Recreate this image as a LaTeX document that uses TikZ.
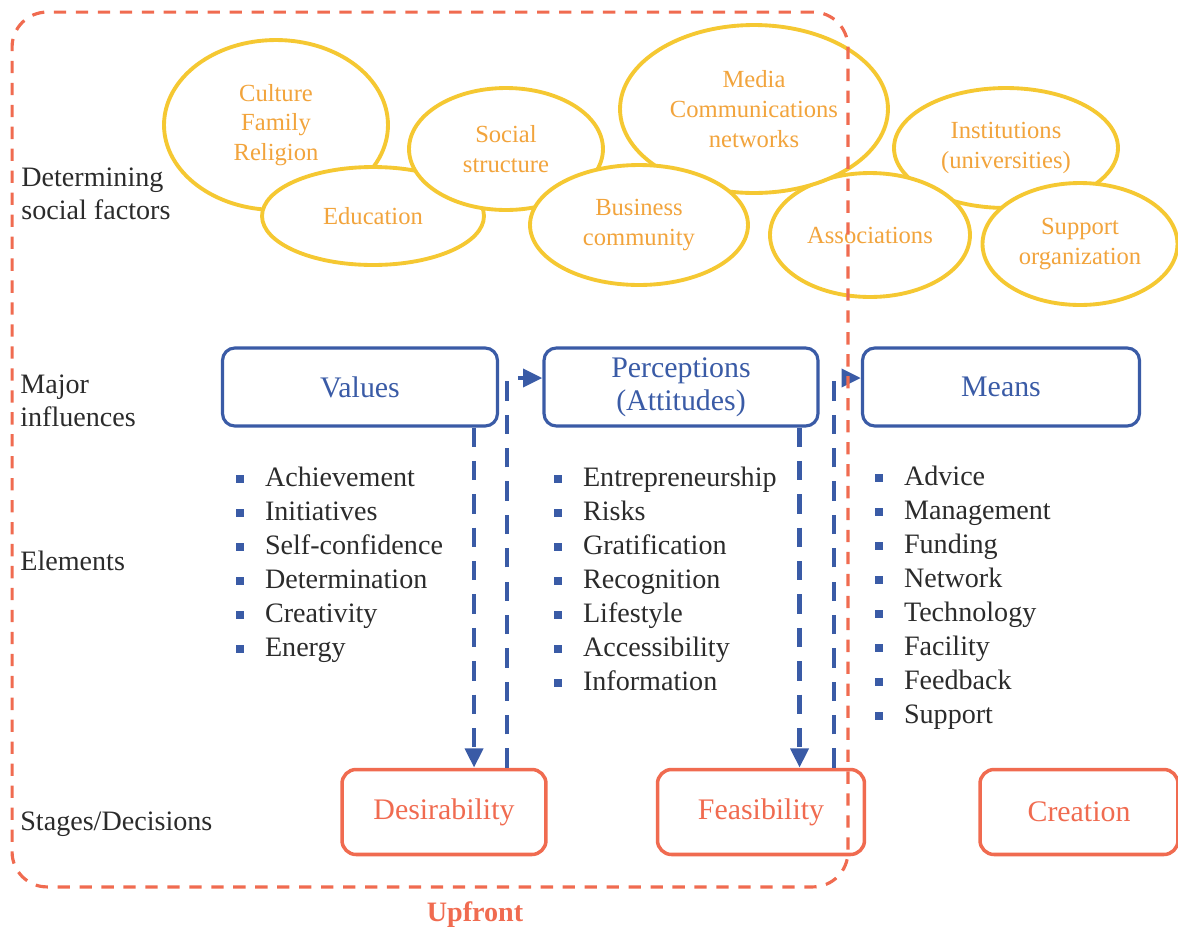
\documentclass[tikz,border=0pt]{standalone}
\usepackage{fontspec}
\setmainfont{Liberation Serif}
\usetikzlibrary{shapes.geometric, arrows, arrows.meta, positioning, calc}

\definecolor{sunline}{HTML}{F5C832}
\definecolor{suntext}{HTML}{F2A43C}
\definecolor{inkblue}{HTML}{3A5BA6}
\definecolor{coral}{HTML}{F06B50}
\definecolor{darktext}{HTML}{2B2B2B}
\newcommand{\sqbullet}{\textcolor{inkblue}{\rule[0.12em]{0.28em}{0.28em}}\hspace{0.74em}}

\begin{document}
\begin{tikzpicture}[
        x=0.02cm, y=-0.02cm,
        factor/.style={ellipse, draw=sunline, line width=2.2pt, fill=white, inner sep=0pt, text=suntext, align=center, font=\fontsize{14}{17}\selectfont},
        influence/.style={rectangle, rounded corners=7pt, draw=inkblue, line width=1.8pt, text=inkblue, minimum height=1.56cm, align=center, font=\fontsize{17}{19}\selectfont},
        stage/.style={rectangle, rounded corners=8pt, draw=coral, line width=2pt, text=coral, minimum height=1.7cm, font=\fontsize{17}{19}\selectfont},
        rowlabel/.style={anchor=west, align=left, text=darktext, inner sep=0pt, font=\fontsize{16}{18.5}\selectfont},
        item/.style={anchor=west, inner sep=0pt, text=darktext, text height=1.5ex, text depth=.25ex, font=\fontsize{16}{19}\selectfont},
        flow/.style={draw=inkblue, line width=2.6pt, dash pattern=on 11pt off 8pt, -{Triangle[length=11pt, width=10pt]}},
        frame/.style={draw=coral, line width=1.8pt, dash pattern=on 7pt off 5.5pt, rounded corners=0.7cm}
      ]
        \useasboundingbox (0,0) rectangle (1178,934);

        % Determining social factors
        \node (culture) [factor, minimum width=4.48cm, minimum height=3.4cm] at (276,125) {Culture\\Family\\Religion};
        \node (education) [factor, minimum width=4.44cm, minimum height=1.96cm] at (373,216) {Education};
        \node (social) [factor, minimum width=3.88cm, minimum height=2.44cm] at (506,149) {Social\\structure};
        \node (institutions) [factor, minimum width=4.48cm, minimum height=2.4cm] at (1006,148) {Institutions\\(universities)};
        \node (associations) [factor, minimum width=4.0cm, minimum height=2.48cm] at (870,235) {Associations};
        \node (media) [factor, minimum width=5.36cm, minimum height=3.36cm] at (754,109) {Media\\Communications\\networks};
        \node (business) [factor, minimum width=4.36cm, minimum height=2.4cm] at (639,225) {Business\\community};
        \node (support) [factor, minimum width=3.9cm, minimum height=2.44cm] at (1080,244) {Support\\organization};

        % Major influences
        \node (values) [influence, minimum width=5.5cm] at (360,387) {Values};
        \node (percep) [influence, minimum width=5.48cm] at (681,387) {Perceptions\\(Attitudes)};
        \node (means) [influence, minimum width=5.54cm] at (1001,387) {Means};

        % Stages
        \node (desir) [stage, minimum width=4.08cm] at (444,812) {Desirability};
        \node (feas) [stage, minimum width=4.14cm] at (761,812) {Feasibility};
        \node (creation) [stage, minimum width=3.96cm] at (1079,812) {Creation};

        % Row labels
        \node (detlbl) [rowlabel] at (21,194) {Determining\\social factors};
        \node (majlbl) [rowlabel] at (20,401) {Major\\influences};
        \node (elelbl) [rowlabel] at (20,561) {Elements};
        \node (stglbl) [rowlabel] at (20,824) {Stages/Decisions};

        % Elements
        \foreach \txt [count=\i] in {Achievement, Initiatives, Self-confidence, Determination, Creativity, Energy}
          \node (valitem\i) [item] at (236,{447+34*\i}) {\sqbullet\txt};
        \foreach \txt [count=\i] in {Entrepreneurship, Risks, Gratification, Recognition, Lifestyle, Accessibility, Information}
          \node (peritem\i) [item] at (554,{447+34*\i}) {\sqbullet\txt};
        \foreach \txt [count=\i] in {Advice, Management, Funding, Network, Technology, Facility, Feedback, Support}
          \node (meaitem\i) [item] at (875,{446+34*\i}) {\sqbullet\txt};

        % Arrows
        \coordinate (valdrop) at ([xshift=-0.5cm]values.south east);
        \coordinate (perdrop) at ([xshift=-0.4cm]percep.south east);
        \draw [flow] (valdrop) -- (valdrop |- desir.north);
        \draw [flow] (perdrop) -- (perdrop |- feas.north);
        \draw [flow] ([xshift=1.26cm]desir.north) |- ([yshift=0.18cm]percep.west);
        \draw [flow] ([xshift=1.46cm]feas.north) |- ([yshift=0.18cm]means.west);

        % Upfront
        \node (upfront) [frame, minimum width=16.72cm, minimum height=17.5cm] at (430,449.5) {};
        \node (upfrontlbl) [text=coral, font=\bfseries\fontsize{16}{18}\selectfont] at (475,915) {Upfront};
      \end{tikzpicture}
\end{document}
